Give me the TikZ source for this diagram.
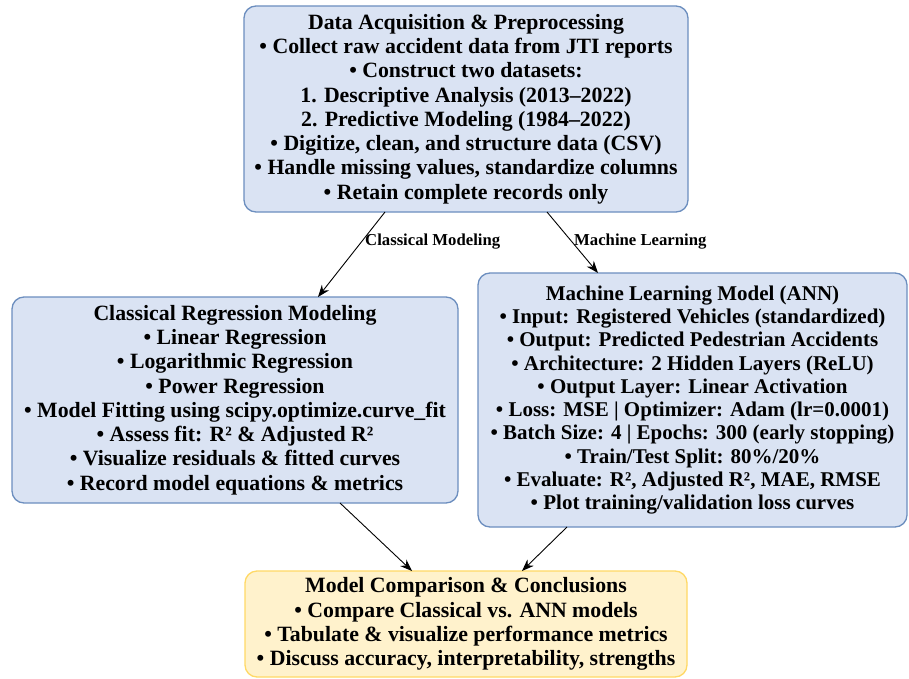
\documentclass[tikz,border=0pt]{standalone}
\usepackage{fontspec}
\setmainfont{Liberation Serif}
\usetikzlibrary{arrows.meta}
\definecolor{bluefill}{HTML}{DAE3F3}
\definecolor{blueline}{HTML}{6C8EBF}
\definecolor{yelfill}{HTML}{FFF2CC}
\definecolor{yelline}{HTML}{FFD966}
\tikzset{
  box/.style={draw=blueline, fill=bluefill, line width=1.3pt, rounded corners=12pt,
    inner sep=0pt, outer sep=0pt, align=center,
    font=\fontsize{21.8}{24.3}\selectfont\bfseries},
  ybox/.style={box, draw=yelline, fill=yelfill},
  arr/.style={-{Stealth[length=12pt,width=9pt]}, line width=0.9pt, black},
  lbl/.style={font=\fontsize{16.7}{18}\selectfont\bfseries, inner sep=0pt, anchor=west}
}
\begin{document}
\begin{tikzpicture}[x=1pt,y=-1pt]
\path[use as bounding box, fill=white] (0,0) rectangle (909,679);
\node[box, minimum width=444pt, minimum height=206pt] (top) at (466,109) {Data Acquisition \& Preprocessing\\
• Collect raw accident data from JTI reports\\
• Construct two datasets:\\
1. Descriptive Analysis (2013–2022)\\
2. Predictive Modeling (1984–2022)\\
• Digitize, clean, and structure data (CSV)\\
• Handle missing values, standardize columns\\
• Retain complete records only};
\node[box, minimum width=429pt, minimum height=254pt, font=\fontsize{21.0}{23.3}\selectfont\bfseries] (right) at (692.5,400) {Machine Learning Model (ANN)\\
• Input: Registered Vehicles (standardized)\\
• Output: Predicted Pedestrian Accidents\\
• Architecture: 2 Hidden Layers (ReLU)\\
• Output Layer: Linear Activation\\
• Loss: MSE | Optimizer: Adam (lr=0.0001)\\
• Batch Size: 4 | Epochs: 300 (early stopping)\\
• Train/Test Split: 80\%/20\%\\
• Evaluate: R², Adjusted R², MAE, RMSE\\
• Plot training/validation loss curves};
\node[box, minimum width=446pt, minimum height=206pt] (left) at (235,400) {Classical Regression Modeling\\
• Linear Regression\\
• Logarithmic Regression\\
• Power Regression\\
• Model Fitting using scipy.optimize.curve\_fit\\
• Assess fit: R² \& Adjusted R²\\
• Visualize residuals \& fitted curves\\
• Record model equations \& metrics};
\node[ybox, minimum width=442pt, minimum height=106pt] (bot) at (466,624) {Model Comparison \& Conclusions\\
• Compare Classical vs. ANN models\\
• Tabulate \& visualize performance metrics\\
• Discuss accuracy, interpretability, strengths};
\draw[arr] ([xshift=141pt]top.south west) -- ([xshift=306pt]left.north west);
\draw[arr] ([xshift=303pt]top.south west) -- ([xshift=120pt]right.north west);
\draw[arr] ([xshift=328pt]left.south west) -- ([xshift=167pt]bot.north west);
\draw[arr] ([xshift=89pt]right.south west) -- ([xshift=277pt]bot.north west);
\node[lbl] (l1) at (365,242) {Classical Modeling};
\node[lbl] (l2) at (574,242) {Machine Learning};
\end{tikzpicture}
\end{document}
